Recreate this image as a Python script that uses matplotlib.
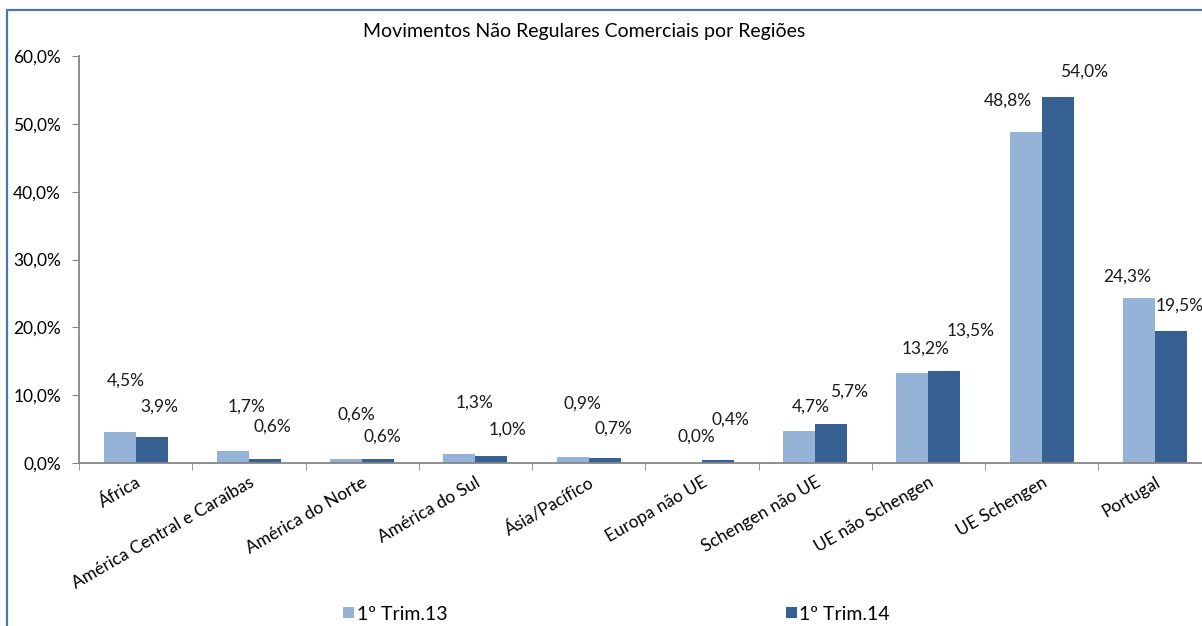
import matplotlib.pyplot as plt
import numpy as np
from matplotlib.patches import Rectangle

plt.rcParams['font.family'] = ['Lato', 'DejaVu Sans']

# dados
regioes = ['África', 'América Central e Caraíbas', 'América do Norte', 'América do Sul',
           'Ásia/Pacífico', 'Europa não UE', 'Schengen não UE', 'UE não Schengen',
           'UE Schengen', 'Portugal']
trim13 = [4.5, 1.7, 0.6, 1.3, 0.9, 0.0, 4.7, 13.2, 48.8, 24.3]
trim14 = [3.9, 0.6, 0.6, 1.0, 0.7, 0.4, 5.7, 13.5, 54.0, 19.5]
series_names = ['1º Trim.13', '1º Trim.14']

# deslocamento dos rótulos (pixels) em relação ao topo da barra, como no original
off13 = [(6, 52), (14, 45), (10, 44), (15, 52), (10, 53), (11, 26), (12, 24), (13, 25), (-18, 31), (-12, 22)]
off14 = [(8, 30), (7, 32), (4, 22), (16, 27), (9, 30), (13, 41), (18, 33), (26, 41), (26, 25), (9, 25)]

c_light = '#95B3D7'
c_dark = '#366092'
axis_col = '#868686'

fig = plt.figure(figsize=(12.02, 6.26), dpi=100)
ax = fig.add_axes([79 / 1202, 1 - 463 / 626, 1132.5 / 1202, 407 / 626])

x = np.arange(len(regioes))
w = 0.283
b1 = ax.bar(x - w / 2, trim13, w, color=c_light, label=series_names[0])
b2 = ax.bar(x + w / 2, trim14, w, color=c_dark, label=series_names[1])

def fmt(v):
    return f'{v:.1f}%'.replace('.', ',')

for bars, vals, offs in [(b1, trim13, off13), (b2, trim14, off14)]:
    for rect, v, (dx, dy) in zip(bars, vals, offs):
        ax.annotate(fmt(v), (rect.get_x() + rect.get_width() / 2, v),
                    xytext=(dx, dy), textcoords='offset pixels',
                    ha='center', va='center', fontsize=12.5, color='#1a1a1a',
                    annotation_clip=False)

ax.set_xlim(-0.5, len(regioes) - 0.5)
ax.set_ylim(0, 60)
ax.set_yticks(np.arange(0, 61, 10))
ax.set_yticklabels([fmt(v) for v in np.arange(0, 61, 10)], fontsize=12.5)
ax.set_xticks(x)
ax.set_xticklabels(regioes, rotation=30, ha='right', rotation_mode='anchor', fontsize=12.5)
ax.set_xticks(np.arange(-0.5, len(regioes), 1), minor=True)
ax.tick_params(axis='x', which='major', length=0, pad=8)
ax.tick_params(axis='x', which='minor', length=5, color=axis_col, direction='out')
ax.tick_params(axis='y', length=5, color=axis_col, direction='out', pad=8)

for s in ['top', 'right']:
    ax.spines[s].set_visible(False)
for s in ['left', 'bottom']:
    ax.spines[s].set_color(axis_col)
    ax.spines[s].set_linewidth(1.3)

fig.text(0.486, 1 - 31 / 626, 'Movimentos Não Regulares Comerciais por Regiões',
         ha='center', va='center', fontsize=14)

fig.legend(handles=[b1, b2], labels=series_names, ncol=2, loc='center',
           bbox_to_anchor=(0.513, 1 - 614 / 626), frameon=False, fontsize=14,
           handlelength=0.55, handleheight=0.55, handletextpad=0.15, columnspacing=17.4,
           borderpad=0)

# moldura do gráfico (cortada à direita e em baixo)
fig.add_artist(Rectangle((7 / 1202, -0.1), 1.2, 1.1 - 10 / 626, transform=fig.transFigure,
                         fill=False, ec='#4A76AE', lw=1.6))

fig.savefig('out.png', dpi=100)
